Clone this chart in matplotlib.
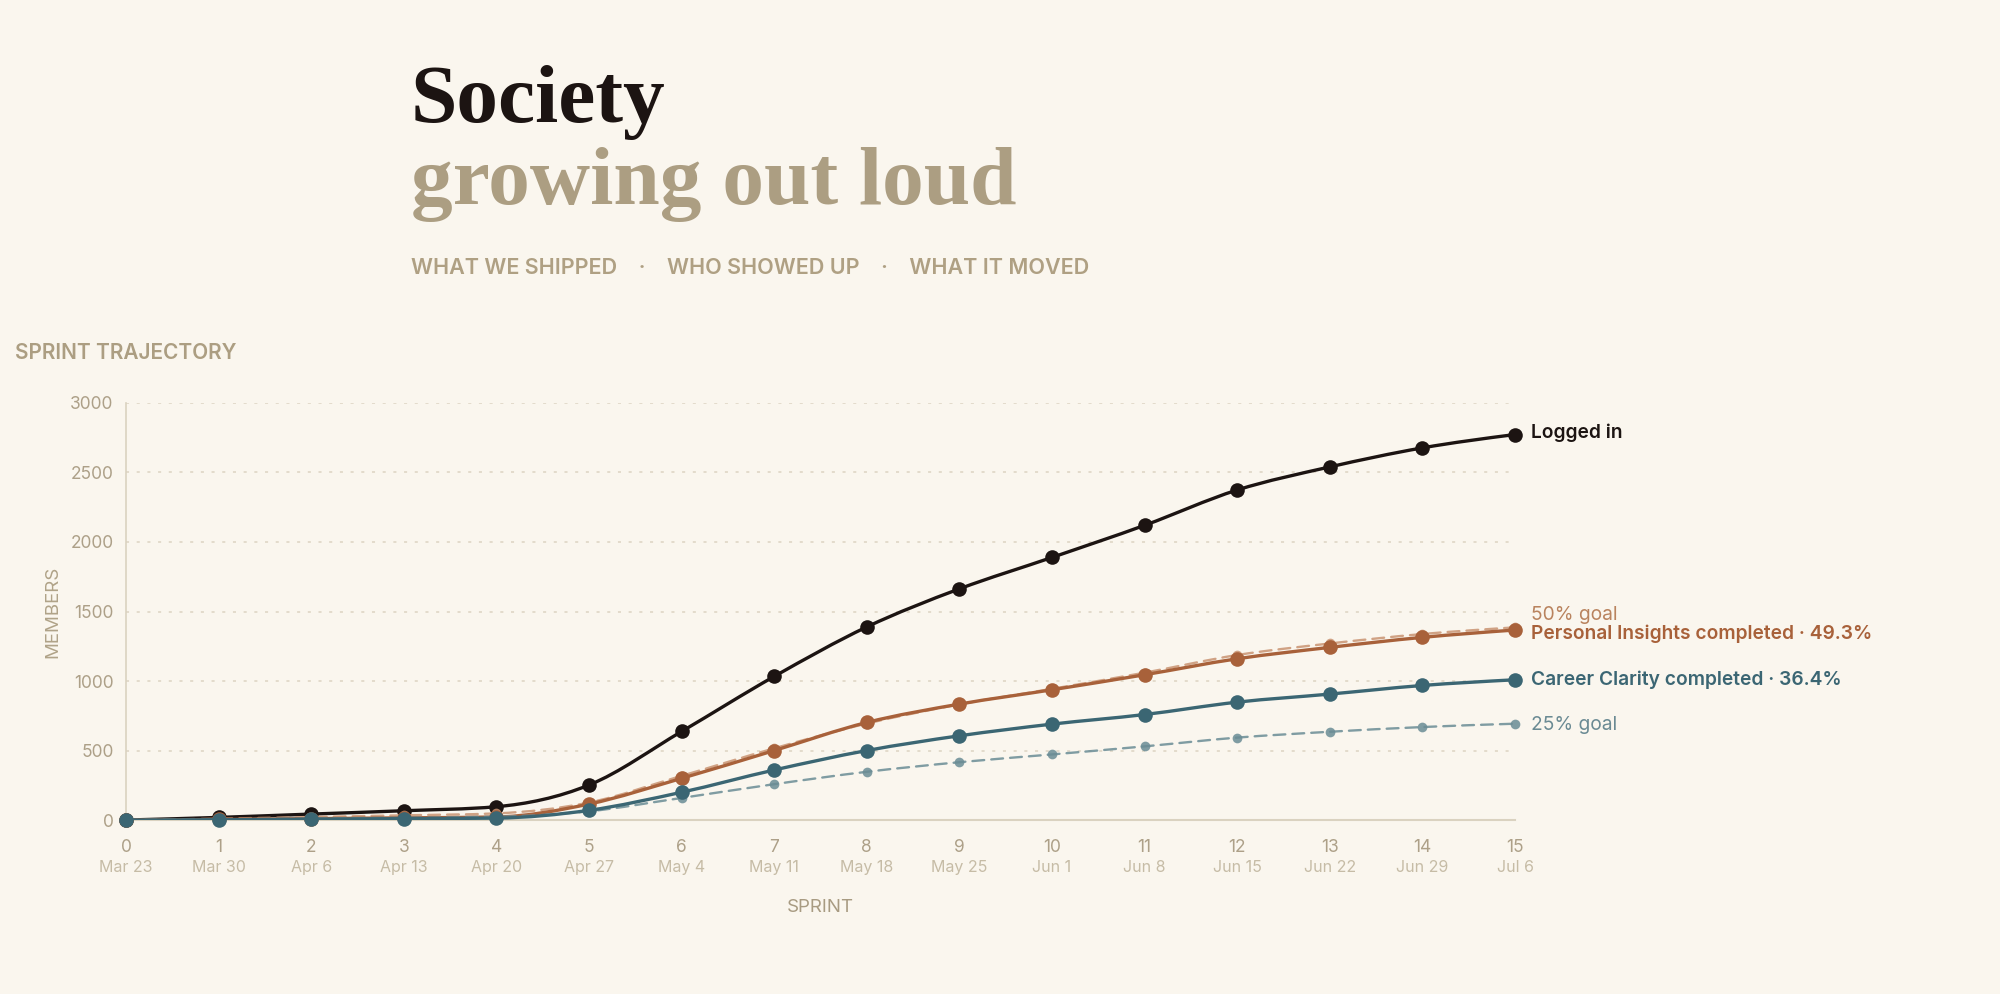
import numpy as np
import matplotlib
matplotlib.use("Agg")
import matplotlib.pyplot as plt
from matplotlib.path import Path
from matplotlib.patches import PathPatch
import matplotlib.transforms as mtransforms

plt.rcParams['font.family'] = ['Inter', 'DejaVu Sans']

# --- data -------------------------------------------------------------
sprints = list(range(16))
dates = ["Mar 23", "Mar 30", "Apr 6", "Apr 13", "Apr 20", "Apr 27", "May 4", "May 11",
         "May 18", "May 25", "Jun 1", "Jun 8", "Jun 15", "Jun 22", "Jun 29", "Jul 6"]
logged_in = [0, 19, 43, 67, 96, 252, 637, 1033, 1389, 1663, 1889, 2120, 2374, 2540, 2677, 2773]
personal_insights = [0, 4, 10, 16, 22, 115, 300, 500, 702, 834, 937, 1045, 1160, 1242, 1314, 1367]
goal_50 = [0, 10, 22, 34, 48, 126, 318, 516, 694, 832, 944, 1060, 1187, 1270, 1338, 1386]
career_clarity = [0, 2, 6, 10, 14, 70, 200, 360, 500, 606, 690, 759, 848, 906, 968, 1009]
goal_25 = [0, 5, 11, 17, 24, 63, 159, 258, 347, 416, 472, 530, 593, 635, 669, 693]
y_ticks = [0, 500, 1000, 1500, 2000, 2500, 3000]

BG = '#FAF6EE'
INK = '#1C1412'
TAN = '#AC9E82'
ORANGE = '#A8613A'
ORANGE_GOAL = '#C99372'
TEAL = '#3B6673'
TEAL_GOAL = '#6A8C95'


def monotone_path(xs, ys):
    # cubic bezier path with monotone-x tangents (like d3.curveMonotoneX)
    x = np.asarray(xs, float)
    y = np.asarray(ys, float)
    h = np.diff(x)
    s = np.diff(y) / h
    n = len(x)
    t = np.zeros(n)
    for i in range(1, n - 1):
        p = (s[i - 1] * h[i] + s[i] * h[i - 1]) / (h[i - 1] + h[i])
        sg = (1 if s[i - 1] >= 0 else -1) + (1 if s[i] >= 0 else -1)
        t[i] = sg * min(abs(s[i - 1]), abs(s[i]), 0.5 * abs(p))
    t[0] = (3 * s[0] - t[1]) / 2
    t[-1] = (3 * s[-1] - t[-2]) / 2
    verts = [(x[0], y[0])]
    codes = [Path.MOVETO]
    for i in range(n - 1):
        d = h[i] / 3
        verts += [(x[i] + d, y[i] + d * t[i]), (x[i + 1] - d, y[i + 1] - d * t[i + 1]), (x[i + 1], y[i + 1])]
        codes += [Path.CURVE4] * 3
    return Path(verts, codes)


def draw_series(ax, ys, color, lw, ms, ls='-', alpha=1.0, z=3):
    patch = PathPatch(monotone_path(sprints, ys), facecolor='none', edgecolor=color,
                      lw=lw, linestyle=ls, alpha=alpha, zorder=z, capstyle='round')
    ax.add_patch(patch)
    ax.plot(sprints, ys, 'o', color=color, ms=ms, alpha=alpha, zorder=z + 0.5,
            markeredgewidth=0, clip_on=False)


fig = plt.figure(figsize=(20, 9.94), dpi=100, facecolor=BG)
ax = fig.add_axes([0.063, 0.175, 0.6945, 0.4196], facecolor=BG)

draw_series(ax, logged_in, INK, 2.4, 10.5, z=3)
draw_series(ax, goal_50, ORANGE_GOAL, 1.7, 7, ls=(0, (5, 3)), alpha=0.85, z=4)
draw_series(ax, personal_insights, ORANGE, 2.4, 10.5, z=5)
draw_series(ax, goal_25, TEAL_GOAL, 1.7, 7, ls=(0, (5, 3)), alpha=0.85, z=6)
draw_series(ax, career_clarity, TEAL, 2.4, 10.5, z=7)

ax.set_xlim(0, 15)
ax.set_ylim(0, 3000)
ax.set_yticks(y_ticks)
ax.set_yticklabels([str(v) for v in y_ticks])
ax.set_xticks(sprints)
ax.set_xticklabels([str(s) for s in sprints])
ax.tick_params(axis='both', length=0, colors='#ADA088', labelsize=12.5)
ax.tick_params(axis='x', pad=14)
ax.tick_params(axis='y', pad=9)
ax.grid(axis='y', color='#DCD4C2', linestyle=(0, (2, 5)), lw=1.1)
ax.set_axisbelow(True)
for side in ['top', 'right']:
    ax.spines[side].set_visible(False)
ax.spines['left'].set_color('#DAD2C0')
ax.spines['bottom'].set_color('#DAD2C0')
ax.spines['left'].set_linewidth(1.2)
ax.spines['bottom'].set_linewidth(1.5)

# date sub-labels
trans = mtransforms.blended_transform_factory(ax.transData, ax.transAxes)
for s, d in zip(sprints, dates):
    ax.text(s, -0.113, d, transform=trans, ha='center', va='center',
            fontsize=11.5, color='#C6BCA6')

ax.text(0.5, -0.21, "SPRINT", transform=ax.transAxes, ha='center', va='center',
        fontsize=13.5, color='#A89B82')
ax.text(-0.053, 0.5, "MEMBERS", transform=ax.transAxes, ha='center', va='center',
        rotation=90, fontsize=13.5, color='#B0A388')

# end labels
ends = [
    (logged_in[-1], "Logged in", INK, 'semibold', 1),
    (goal_50[-1], "50% goal", '#B9835E', 'normal', 9),
    (personal_insights[-1], "Personal Insights completed · 49.3%", ORANGE, 'semibold', -3),
    (career_clarity[-1], "Career Clarity completed · 36.4%", TEAL, 'semibold', 0),
    (goal_25[-1], "25% goal", '#6A8A93', 'normal', -1),
]
for yv, label, col, wt, dy in ends:
    ax.annotate(label, xy=(15, yv), xytext=(11.5, dy), textcoords='offset points',
                ha='left', va='center', fontsize=13.8, color=col, fontweight=wt,
                annotation_clip=False)

# titles
fig.text(0.2055, 0.877, "Society", fontsize=60, fontweight='bold', color=INK,
         family='Liberation Serif', ha='left', va='baseline')
fig.text(0.2055, 0.795, "growing out loud", fontsize=60, fontweight='bold', color=TAN,
         family='Liberation Serif', ha='left', va='baseline')
fig.text(0.2055, 0.7305, "WHAT WE SHIPPED    ·    WHO SHOWED UP    ·    WHAT IT MOVED",
         fontsize=15.5, fontweight='semibold', color='#AFA083', ha='left', va='center')
fig.text(0.0075, 0.645, "SPRINT TRAJECTORY", fontsize=15, fontweight='semibold',
         color=TAN, ha='left', va='center')

fig.savefig('out.png', dpi=100, facecolor=BG)
